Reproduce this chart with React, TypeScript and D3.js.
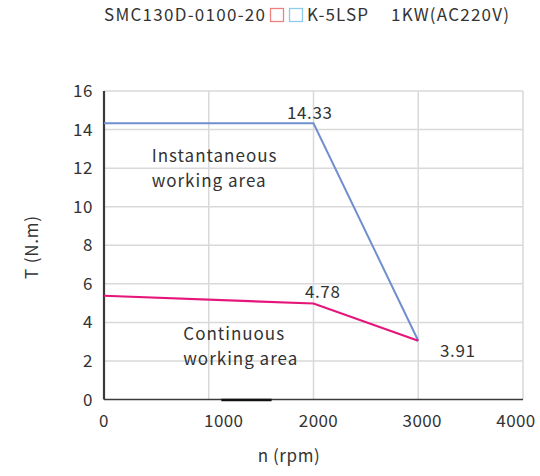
import React from "react";
import * as d3 from "d3";

const xTicks = [0, 1000, 2000, 3000, 4000];
const yTicks = [0, 2, 4, 6, 8, 10, 12, 14, 16];
const speed = [0, 2000, 3000];
const peakTorque = [14.33, 14.33, 3.05];
const ratedTorque = [5.38, 4.98, 3.05];
const pointLabels = [
  { text: "14.33", x: 1747, y: 14.55 },
  { text: "4.78", x: 1919, y: 5.26 },
  { text: "3.91", x: 3208, y: 2.2 },
];
const areaLabels = [
  { lines: ["Instantaneous", "working area"], x: 455, y: 12.33 },
  { lines: ["Continuous", "working area"], x: 757, y: 3.09 },
];
const titleParts = [
  { text: "SMC130D-0100-20", x0: 104, x1: 265 },
  { text: "K-5LSP", x0: 307, x1: 368 },
  { text: "1KW(AC220V)", x0: 391, x1: 509 },
];
// pixel nudges of the x tick labels, as they sit in the original picture
const xTickNudge = [0, 15, 5, 4, -7];

const W = 540;
const H = 476;
const FONT = "'Noto Sans CJK SC', 'Noto Sans', sans-serif";
const TXT = "#333";

export default function App() {
  const x = d3.scaleLinear().domain([0, 4000]).range([104, 523]);
  const y = d3.scaleLinear().domain([0, 16]).range([399.5, 91]);
  const line = d3
    .line<number>()
    .x((_, i) => x(speed[i]))
    .y((d) => y(d));

  return (
    <svg
      width={W}
      height={H}
      style={{ position: "absolute", left: 0, top: 0, background: "#fff" }}
      fontFamily={FONT}
    >
      {titleParts.map((p) => (
        <text
          key={p.text}
          x={p.x0}
          y={21}
          fontSize={17}
          fill={TXT}
          textLength={p.x1 - p.x0}
          lengthAdjust="spacing"
        >
          {p.text}
        </text>
      ))}
      <rect x={270.5} y={8.5} width={13} height={13} fill="none" stroke="#f08080" strokeWidth={1.3} />
      <rect x={289.5} y={8.5} width={13} height={13} fill="none" stroke="#8ccbec" strokeWidth={1.3} />

      {yTicks.slice(1).map((t) => (
        <line key={"gy" + t} x1={x(0)} x2={x(4000)} y1={y(t)} y2={y(t)} stroke="#d9d9d9" strokeWidth={1.5} />
      ))}
      {xTicks.slice(1).map((t) => (
        <line key={"gx" + t} x1={x(t)} x2={x(t)} y1={y(0)} y2={y(16)} stroke="#d9d9d9" strokeWidth={1.5} />
      ))}

      <line x1={x(0)} x2={x(0)} y1={y(16)} y2={y(0)} stroke="#3a3a3a" strokeWidth={2.2} />
      <line x1={x(0)} x2={x(4000)} y1={y(0)} y2={y(0)} stroke="#3a3a3a" strokeWidth={1.6} />
      <line x1={x(1120)} x2={x(1600)} y1={y(0) + 0.5} y2={y(0) + 0.5} stroke="#111" strokeWidth={2.4} />

      {yTicks.map((t) => (
        <text key={"ty" + t} x={93} y={y(t)} dy="0.36em" textAnchor="end" fontSize={17} letterSpacing={0.6} fill={TXT}>
          {t}
        </text>
      ))}
      {xTicks.map((t, i) => (
        <text key={"tx" + t} x={x(t) + xTickNudge[i]} y={427} textAnchor="middle" fontSize={17} letterSpacing={0.4} fill={TXT}>
          {t}
        </text>
      ))}

      <text x={289} y={462} textAnchor="middle" fontSize={17} letterSpacing={0.6} fill={TXT}>
        n (rpm)
      </text>
      <text
        transform="translate(38,247) rotate(-90)"
        textAnchor="middle"
        fontSize={17}
        letterSpacing={0.8}
        fill={TXT}
      >
        T (N.m)
      </text>

      <path d={line(peakTorque) || ""} fill="none" stroke="#6f8fcf" strokeWidth={2} />
      <path d={line(ratedTorque) || ""} fill="none" stroke="#e5157a" strokeWidth={2.2} />

      {pointLabels.map((p) => (
        <text key={p.text} x={x(p.x)} y={y(p.y)} fontSize={17} letterSpacing={0.6} fill={TXT}>
          {p.text}
        </text>
      ))}
      {areaLabels.map((a) => (
        <text key={a.lines[0]} x={x(a.x)} y={y(a.y)} fontSize={17} fill={TXT} letterSpacing={1}>
          {a.lines.map((l, i) => (
            <tspan key={i} x={x(a.x)} dy={i === 0 ? 0 : 25}>
              {l}
            </tspan>
          ))}
        </text>
      ))}
    </svg>
  );
}
